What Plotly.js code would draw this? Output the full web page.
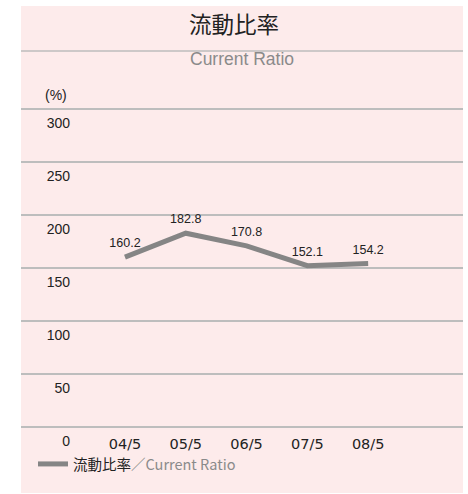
<!DOCTYPE html>
<html>
<head>
<meta charset="utf-8">
<script src="https://cdn.plot.ly/plotly-3.0.1.min.js"></script>
<style>
  body { margin: 0; background: #fff; }
  #chart { width: 468px; height: 494px; }
</style>
</head>
<body>
<div id="chart"></div>
<script>
// current ratio (%) by fiscal year end
var periods = ['04/5', '05/5', '06/5', '07/5', '08/5'];
var ratioValues = [160.2, 182.8, 170.8, 152.1, 154.2];
var yTicks = [0, 50, 100, 150, 200, 250, 300];

var sans = '"Liberation Sans", Arial, sans-serif';
var jp = '"Noto Sans CJK JP", "Liberation Sans", sans-serif';
var gridColor = '#bdbdbd';

// plot area is 21..463 px across, 106..428 px down
function px(p){ return (p - 21) / 442; }
function py(p){ return (428 - p) / 322; }

var trace = {
  x: periods,
  y: ratioValues,
  type: 'scatter',
  mode: 'lines+markers+text',
  text: ratioValues.map(function(v){ return v.toFixed(1); }),
  textposition: 'top center',
  textfont: {family: sans, size: 12.5, color: '#222'},
  line: {color: '#858585', width: 5},
  // invisible markers only to lift the value labels off the line
  marker: {size: 9, color: 'rgba(0,0,0,0)', line: {width: 0}},
  cliponaxis: false,
  name: '流動比率<span style="color:#8a8a8a">／Current Ratio</span>'
};

// carries the left tick labels (same points, nothing drawn)
var labelAxisTrace = {
  x: periods,
  y: ratioValues,
  yaxis: 'y2',
  type: 'scatter',
  mode: 'lines',
  line: {color: 'rgba(0,0,0,0)', width: 0},
  showlegend: false,
  hoverinfo: 'skip'
};

var layout = {
  width: 468,
  height: 494,
  margin: {l: 21, r: 5, t: 106, b: 66},
  paper_bgcolor: '#ffffff',
  plot_bgcolor: 'rgba(0,0,0,0)',
  showlegend: true,
  title: {
    text: '流動比率',
    font: {family: jp, size: 22.5, color: '#222'},
    x: 0.5, xanchor: 'center',
    y: 1 - 25 / 494, yanchor: 'middle'
  },
  xaxis: {
    type: 'category',
    range: [-1.71, 5.56],
    showgrid: false,
    zeroline: false,
    showline: false,
    ticks: '',
    ticklabelstandoff: 5,
    tickfont: {family: '"DejaVu Sans", sans-serif', size: 14.5, color: '#222'},
    fixedrange: true
  },
  yaxis: {
    range: [-1, 302.8],
    tickvals: yTicks,
    showticklabels: false,
    showgrid: true,
    gridcolor: gridColor,
    gridwidth: 1.5,
    zeroline: true,
    zerolinecolor: gridColor,
    zerolinewidth: 1.5,
    showline: false,
    ticks: '',
    fixedrange: true
  },
  yaxis2: {
    overlaying: 'y',
    anchor: 'free',
    position: px(70),
    side: 'left',
    range: [-1, 302.8],
    tickvals: yTicks,
    showgrid: false,
    zeroline: false,
    showline: false,
    ticks: '',
    ticklabelshift: 14,
    tickfont: {family: sans, size: 14, color: '#222'},
    fixedrange: true
  },
  legend: {
    orientation: 'h',
    x: px(33), xanchor: 'left',
    y: py(464), yanchor: 'middle',
    bgcolor: 'rgba(0,0,0,0)',
    font: {family: jp, size: 14.5, color: '#222'},
    itemwidth: 30
  },
  shapes: [
    {type: 'rect', xref: 'paper', yref: 'paper', layer: 'below',
     x0: 0, x1: 1, y0: py(493), y1: py(6),
     fillcolor: '#fdebeb', line: {width: 0}},
    {type: 'line', xref: 'paper', yref: 'paper',
     x0: 0, x1: 1, y0: py(51), y1: py(51),
     line: {color: gridColor, width: 1.5}}
  ],
  annotations: [
    {text: 'Current Ratio', xref: 'paper', yref: 'paper',
     x: 0.5, y: py(59), xanchor: 'center', yanchor: 'middle',
     showarrow: false, font: {family: sans, size: 17.5, color: '#8a8a8a'}},
    {text: '(%)', xref: 'paper', yref: 'paper',
     x: px(43), y: py(95), xanchor: 'left', yanchor: 'middle',
     showarrow: false, font: {family: sans, size: 14, color: '#222'}}
  ]
};

Plotly.newPlot('chart', [trace, labelAxisTrace], layout, {displayModeBar: false, staticPlot: true});
</script>
</body>
</html>
